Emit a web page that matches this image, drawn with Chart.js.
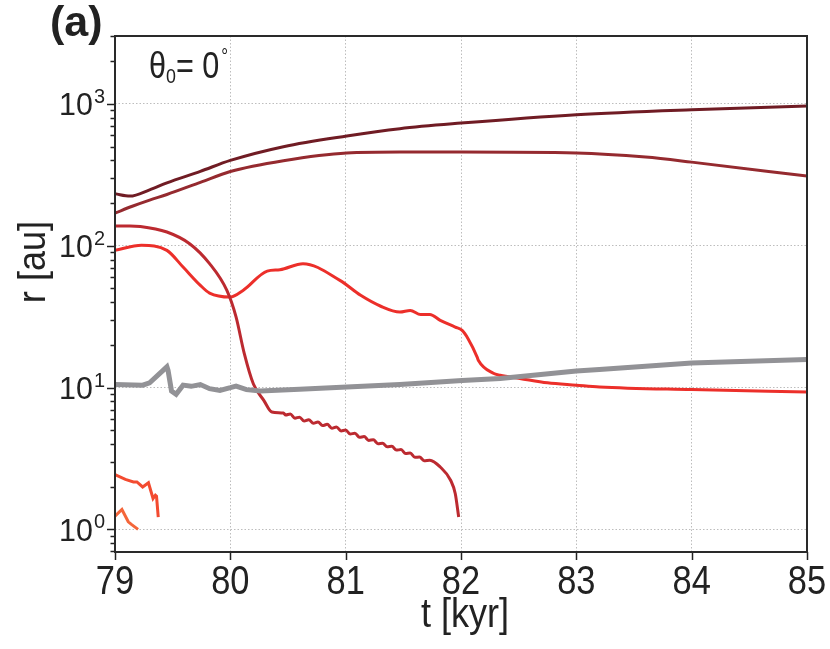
<!DOCTYPE html>
<html>
<head>
<meta charset="utf-8">
<script src="https://cdn.jsdelivr.net/npm/chart.js@4.4.0/dist/chart.umd.min.js"></script>
<style>
  body { margin: 0; background: #fff; }
  canvas { display: block; }
</style>
</head>
<body>
<canvas id="rChart" width="830" height="649"></canvas>
<script>
// t [kyr] and r [au] per track
const tGray = [79.00, 79.24, 79.30, 79.45, 79.46, 79.49, 79.53, 79.59, 79.66, 79.74, 79.82, 79.91, 80.00, 80.05, 80.14, 80.26, 80.60, 81.01, 81.47, 82.01, 82.34, 83.00, 83.20, 84.00, 85.00];
const rGray = [10.5, 10.4, 10.8, 14.0, 13.2, 9.45, 8.96, 10.4, 10.2, 10.5, 9.82, 9.55, 9.98, 10.25, 9.67, 9.45, 9.71, 10.1, 10.5, 11.2, 11.6, 13.1, 13.4, 14.9, 15.8];

const tDark = [79.00, 79.13, 79.30, 79.45, 79.74, 80.00, 80.46, 81.01, 81.47, 82.00, 83.00, 84.00, 85.00];
const rDark = [233, 224, 248, 278, 335, 400, 500, 595, 670, 733, 841, 912, 967];

const tMaroon = [79.00, 79.15, 79.30, 79.45, 79.74, 80.00, 80.46, 81.01, 81.47, 82.00, 83.00, 83.60, 84.00, 85.00];
const rMaroon = [170, 190, 210, 230, 280, 334, 398, 451, 458, 458, 451, 422, 389, 310];

const tCrimson = [79.00, 79.13, 79.22, 79.45, 79.65, 79.82, 79.97, 80.05, 80.12, 80.20, 80.29, 80.36, 80.46,
  80.48, 80.52, 80.56, 80.60, 80.64, 80.68, 80.72, 80.76, 80.80, 80.84, 80.88, 80.92, 80.96, 81.00,
  81.04, 81.08, 81.12, 81.16, 81.20, 81.24, 81.28, 81.32, 81.36, 81.40, 81.44, 81.48, 81.52, 81.56,
  81.60, 81.64, 81.68, 81.73, 81.82, 81.91, 81.95, 81.98];
const rCrimson = [138, 138, 137, 125, 103, 74.8, 48.4, 31.4, 17.5, 10.6, 8.13, 6.72, 6.61,
  6.40, 6.50, 6.08, 6.18, 5.80, 5.93, 5.60, 5.72, 5.39, 5.50, 5.17, 5.28, 4.94, 5.01,
  4.70, 4.76, 4.46, 4.51, 4.24, 4.28, 4.02, 4.05, 3.82, 3.85, 3.62, 3.65, 3.42, 3.45,
  3.22, 3.24, 3.05, 3.07, 2.75, 2.22, 1.79, 1.22];

const tRed = [79.00, 79.23, 79.45, 79.59, 79.74, 79.82, 80.00, 80.11, 80.32, 80.43, 80.63, 80.95, 81.13, 81.30, 81.47,
  81.56, 81.65, 81.73, 81.82, 81.95, 82.01, 82.06, 82.14, 82.15, 82.28, 82.34, 82.51, 82.75, 83.00, 83.20, 84.00, 85.00];
const rRed = [92.8, 100.7, 92.8, 70.8, 52.6, 46.4, 43.5, 48.4, 66.3, 67.8, 74.8, 57.0, 44.7, 37.6, 34.1,
  35.0, 32.7, 32.8, 29.8, 26.7, 25.3, 22.2, 16.4, 15.6, 12.6, 12.2, 11.6, 10.8, 10.4, 10.1, 9.67, 9.30];

const tOrangeRed = [79.00, 79.09, 79.16, 79.19, 79.24, 79.29, 79.33, 79.35, 79.36, 79.375];
const rOrangeRed = [2.43, 2.25, 2.16, 2.16, 1.99, 2.13, 1.65, 1.74, 1.71, 1.22];

const tOrange = [79.00, 79.06, 79.115, 79.145, 79.20];
const rOrange = [1.24, 1.38, 1.13, 1.08, 1.00];

const xTicks = [79, 80, 81, 82, 83, 84, 85];
const yMajor = [1, 10, 100, 1000];
const yExp = ['0', '1', '2', '3'];

const FONT = "'Liberation Sans', Arial, sans-serif";
const INK = '#222';

function pts(ts, rs) { return ts.map((t, i) => ({ x: t, y: rs[i] })); }

function logTicks() {
  const out = [];
  for (let d = -1; d <= 3; d++) {
    for (let m = 1; m <= 9; m++) {
      const v = m * Math.pow(10, d);
      if (v >= 0.692 && v <= 3017) out.push(v);
    }
  }
  return out;
}
const yTickVals = logTicks();
function isMajor(v) { return yMajor.some(m => Math.abs(m - v) < 1e-9); }

// narrow-ish text: horizontal squeeze to mimic the condensed face of the figure
function txt(ctx, s, x, y, size, align, sx, weight) {
  ctx.save();
  ctx.translate(x, y);
  ctx.scale(sx, 1);
  ctx.font = (weight || '') + ' ' + size + 'px ' + FONT;
  ctx.textAlign = align;
  ctx.textBaseline = 'alphabetic';
  ctx.fillStyle = INK;
  ctx.fillText(s, 0, 0);
  const w = ctx.measureText(s).width * sx;
  ctx.restore();
  return w;
}
function width(ctx, s, size, sx) {
  ctx.save(); ctx.font = size + 'px ' + FONT;
  const w = ctx.measureText(s).width * sx; ctx.restore(); return w;
}

const frame = {
  id: 'frame',
  afterDraw(chart) {
    const { ctx, chartArea: a, scales } = chart;
    ctx.save();
    ctx.strokeStyle = INK;
    ctx.lineWidth = 1.5;
    // y ticks, outward
    yTickVals.forEach(v => {
      const py = Math.round(scales.y.getPixelForValue(v)) + 0.5;
      const len = isMajor(v) ? 8 : 4.5;
      ctx.beginPath(); ctx.moveTo(a.left - len, py); ctx.lineTo(a.left, py); ctx.stroke();
    });
    xTicks.forEach(v => {
      const px = Math.round(scales.x.getPixelForValue(v)) + 0.5;
      ctx.beginPath(); ctx.moveTo(px, a.bottom); ctx.lineTo(px, a.bottom + 8); ctx.stroke();
    });
    // box
    ctx.lineWidth = 2;
    ctx.strokeStyle = '#2a2a2a';
    ctx.strokeRect(a.left, a.top, a.right - a.left, a.bottom - a.top);

    // y tick labels 10^n
    yMajor.forEach((v, i) => {
      const py = scales.y.getPixelForValue(v);
      const sw = width(ctx, yExp[i], 21, 0.95);
      txt(ctx, yExp[i], a.left - 10 - sw, py - 1, 21, 'left', 0.95);
      txt(ctx, '10', a.left - 11 - sw, py + 11.5, 32, 'right', 0.95);
    });
    // x tick labels
    xTicks.forEach(v => {
      const px = scales.x.getPixelForValue(v);
      txt(ctx, String(v), px, 594, 41, 'center', 0.84);
    });
    // axis titles
    txt(ctx, 't [kyr]', (a.left + a.right) / 2 + 4, 627, 41, 'center', 0.88);
    ctx.save();
    ctx.translate(45, 262);
    ctx.rotate(-Math.PI / 2);
    txt(ctx, 'r [au]', 0, 0, 38, 'center', 0.95);
    ctx.restore();

    // panel label
    txt(ctx, '(a)', 50, 36, 43, 'left', 1, 'bold');

    // annotation theta_0 = 0 deg
    let x = 149;
    const base = 78;
    x += txt(ctx, '\u03b8', x, base, 36, 'left', 0.85);
    x += txt(ctx, '0', x, base + 5, 21, 'left', 0.85);
    x += txt(ctx, '= 0', x, base, 36, 'left', 0.85) + 2;
    txt(ctx, '\u00b0', x, base - 15, 20, 'left', 0.85);
    ctx.restore();
  }
};

const ds = (label, data, color, width, tension) => ({
  label, data, borderColor: color, borderWidth: width, pointRadius: 0,
  fill: false, tension: tension, cubicInterpolationMode: tension ? 'monotone' : 'default'
});

new Chart(document.getElementById('rChart').getContext('2d'), {
  type: 'line',
  data: {
    datasets: [
      ds('gray', pts(tGray, rGray), '#929296', 5, 0),
      ds('dark', pts(tDark, rDark), '#701c24', 3, 0.4),
      ds('maroon', pts(tMaroon, rMaroon), '#952a2f', 3, 0.4),
      ds('crimson', pts(tCrimson, rCrimson), '#bc2a30', 3, 0.4),
      ds('red', pts(tRed, rRed), '#ec2f2a', 3, 0.4),
      ds('orangeRed', pts(tOrangeRed, rOrangeRed), '#f34b30', 3, 0),
      ds('orange', pts(tOrange, rOrange), '#f4663a', 3, 0)
    ]
  },
  options: {
    responsive: false,
    animation: false,
    layout: { padding: { top: 36, right: 23, left: 0, bottom: 0 } },
    plugins: { legend: { display: false }, tooltip: { enabled: false } },
    scales: {
      x: {
        type: 'linear', min: 79, max: 85,
        afterFit: s => { s.height = 97; },
        afterBuildTicks: s => { s.ticks = xTicks.map(v => ({ value: v })); },
        ticks: { display: false },
        grid: { color: '#bdbdbd', lineWidth: 1, drawTicks: false },
        border: { display: false, dash: [1.5, 2] }
      },
      y: {
        type: 'logarithmic', min: 0.692, max: 3017,
        afterFit: s => { s.width = 115; },
        afterBuildTicks: s => { s.ticks = yTickVals.map(v => ({ value: v })); },
        ticks: { display: false },
        grid: {
          color: c => (c.tick && isMajor(c.tick.value)) ? '#bdbdbd' : 'rgba(0,0,0,0)',
          lineWidth: 1, drawTicks: false
        },
        border: { display: false, dash: [1.5, 2] }
      }
    }
  },
  plugins: [frame]
});
</script>
</body>
</html>
